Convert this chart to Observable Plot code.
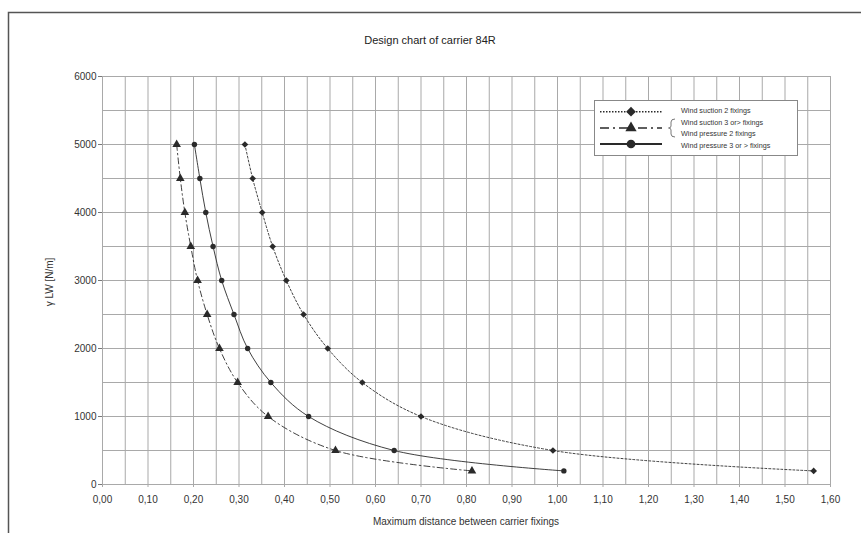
<!DOCTYPE html>
<html>
<head>
<meta charset="utf-8">
<script src="https://cdn.jsdelivr.net/npm/d3@7"></script>
<script src="https://cdn.jsdelivr.net/npm/@observablehq/plot@0.6"></script>
<style>
  html, body { margin: 0; padding: 0; background: #fff; }
  #chart { position: relative; width: 861px; height: 533px; }
  svg { font-family: "Liberation Sans", Arial, sans-serif; }
</style>
</head>
<body>
<div id="chart"></div>
<script>
// ---- Data ----
const loads = [5000, 4500, 4000, 3500, 3000, 2500, 2000, 1500, 1000, 500, 200];
const suction2 = [0.313, 0.330, 0.351, 0.374, 0.404, 0.442, 0.495, 0.571, 0.700, 0.990, 1.563];
const suction3pressure2 = [0.163, 0.171, 0.181, 0.194, 0.209, 0.230, 0.257, 0.297, 0.364, 0.512, 0.812];
const pressure3 = [0.202, 0.214, 0.227, 0.243, 0.262, 0.289, 0.319, 0.370, 0.453, 0.641, 1.014];

const xTicks = [0, 0.1, 0.2, 0.3, 0.4, 0.5, 0.6, 0.7, 0.8, 0.9, 1.0, 1.1, 1.2, 1.3, 1.4, 1.5, 1.6];
const yTicks = [0, 1000, 2000, 3000, 4000, 5000, 6000];
const xGrid = d3.range(0, 33).map(i => i * 0.05);
const yGrid = d3.range(0, 13).map(i => i * 500);

const legendLabels = [
  "Wind suction 2 fixings",
  "Wind suction 3 or> fixings",
  "Wind pressure 2 fixings",
  "Wind pressure 3 or > fixings"
];
const titleText = "Design chart of carrier 84R";
const xLabel = "Maximum distance between carrier fixings";
const yLabel = "\u03B3 LW [N/m]";

const toRows = (xs) => xs.map((x, i) => ({x, y: loads[i]}));
const s1 = toRows(suction2);
const s2 = toRows(suction3pressure2);
const s3 = toRows(pressure3);

const ink = "#2a2a2a";
const fmt = d => d.toFixed(2).replace(".", ",");

const plot = Plot.plot({
  width: 861,
  height: 533,
  marginLeft: 102,
  marginRight: 31,
  marginTop: 76,
  marginBottom: 49,
  style: {fontFamily: "Liberation Sans, Arial, sans-serif", fontSize: "10px", color: "#333", background: "#fff"},
  x: {domain: [0, 1.6]},
  y: {domain: [0, 6000]},
  marks: [
    Plot.gridX(xGrid, {stroke: "#a9a9a9", strokeOpacity: 1, strokeWidth: 1}),
    Plot.gridY(yGrid, {stroke: "#a9a9a9", strokeOpacity: 1, strokeWidth: 1}),
    Plot.axisX({ticks: xTicks, tickFormat: fmt, tickSize: 3, tickPadding: 8, label: null, stroke: "#a9a9a9", fill: "#333"}),
    Plot.axisY({ticks: yTicks, tickFormat: d => String(d), tickSize: 4, tickPadding: 2, label: null, stroke: "#777", fill: "#333"}),
    Plot.line(s1, {x: "x", y: "y", curve: "catmull-rom", stroke: ink, strokeWidth: 0.9, strokeDasharray: "2,2"}),
    Plot.line(s2, {x: "x", y: "y", curve: "catmull-rom", stroke: ink, strokeWidth: 0.9, strokeDasharray: "6,3,1.5,3"}),
    Plot.line(s3, {x: "x", y: "y", curve: "catmull-rom", stroke: ink, strokeWidth: 0.9}),
    Plot.dot(s1, {x: "x", y: "y", symbol: "diamond2", r: 3, fill: ink, stroke: "none"}),
    Plot.dot(s2, {x: "x", y: "y", symbol: "triangle", r: 3.2, fill: ink, stroke: "none"}),
    Plot.dot(s3, {x: "x", y: "y", symbol: "circle", r: 2.7, fill: ink, stroke: "none"})
  ]
});

document.getElementById("chart").appendChild(plot);
const svg = d3.select(plot);

// outer frame (left and top edges visible)
svg.append("path").attr("d", "M8.5,533 V12.5 H861").attr("fill", "none").attr("stroke", "#555").attr("stroke-width", 1.5);

// title
svg.append("text").attr("x", 430).attr("y", 44).attr("text-anchor", "middle")
  .attr("font-size", 11).attr("fill", "#222").text(titleText);

// axis labels
svg.append("text").attr("x", 466).attr("y", 525).attr("text-anchor", "middle")
  .attr("font-size", 10).attr("fill", "#333").text(xLabel);
svg.append("text").attr("transform", "translate(53,282) rotate(-90)").attr("text-anchor", "middle")
  .attr("font-size", 10).attr("fill", "#333").text(yLabel);

// legend
const lg = svg.append("g");
lg.append("rect").attr("x", 594.5).attr("y", 100.5).attr("width", 203).attr("height", 55)
  .attr("fill", "#fff").attr("stroke", "#888").attr("stroke-width", 1);
const lx0 = 600, lx1 = 662, lmid = 631;
const ly = [111.7, 128, 144];
lg.append("line").attr("x1", lx0).attr("x2", lx1).attr("y1", ly[0]).attr("y2", ly[0])
  .attr("stroke", ink).attr("stroke-width", 1.4).attr("stroke-dasharray", "1.5,1.5");
lg.append("line").attr("x1", lx0).attr("x2", lx1).attr("y1", ly[1]).attr("y2", ly[1])
  .attr("stroke", ink).attr("stroke-width", 1.4).attr("stroke-dasharray", "9,4,2,4");
lg.append("line").attr("x1", lx0).attr("x2", lx1).attr("y1", ly[2]).attr("y2", ly[2])
  .attr("stroke", ink).attr("stroke-width", 2);
lg.append("path").attr("transform", `translate(${lmid},${ly[0]})`)
  .attr("d", d3.symbol(d3.symbolDiamond2, 60)()).attr("fill", ink);
lg.append("path").attr("transform", `translate(${lmid},${ly[1]})`)
  .attr("d", d3.symbol(d3.symbolTriangle, 55)()).attr("fill", ink);
lg.append("path").attr("transform", `translate(${lmid},${ly[2]})`)
  .attr("d", d3.symbol(d3.symbolCircle, 60)()).attr("fill", ink);
// brace grouping the two middle labels
lg.append("path").attr("d", "M675,119 Q671,119 671,122 L671,126 Q671,128 668.5,128 Q671,128 671,130 L671,134 Q671,137 675,137")
  .attr("fill", "none").attr("stroke", "#555").attr("stroke-width", 0.8);
const ty = [112.5, 124.5, 136, 147.5];
legendLabels.forEach((t, i) => {
  lg.append("text").attr("x", 681).attr("y", ty[i]).attr("text-anchor", "start")
    .attr("font-size", 7.2).attr("fill", "#333").text(t);
});
</script>
</body>
</html>
